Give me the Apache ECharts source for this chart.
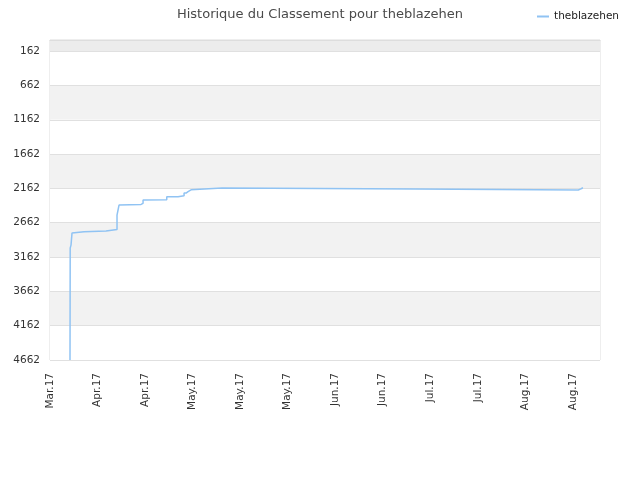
<!DOCTYPE html>
<html>
<head>
<meta charset="utf-8">
<script src="https://cdn.jsdelivr.net/npm/echarts@6/dist/echarts.min.js"></script>
<style>html,body{margin:0;padding:0;background:#fff}#c{width:640px;height:480px}</style>
</head>
<body>
<div id="c"></div>
<script>
// x: days since the first tick (Mar.17 tick = day 0), y: ranking
var days  = [5.89, 5.95, 6.19, 6.48, 6.78, 10.02, 16.50, 19.74, 20.04, 20.33, 20.63, 26.82, 27.41, 28.00, 34.39, 37.72, 39.49, 40.08, 40.67, 41.55, 50.69, 107.57, 155.61, 156.20, 156.79];
var ranks = [4662, 3031, 2988, 2813, 2794, 2783, 2762, 2550, 2477, 2405, 2395, 2380, 2332, 2328, 2284, 2269, 2230, 2208, 2182, 2157, 2172, 2186, 2172, 2160, 2147];
var xTickLabels = ["Mar.17","Apr.17","Apr.17","May.17","May.17","May.17","Jun.17","Jun.17","Jul.17","Jul.17","Aug.17","Aug.17"];
var yTickValues = [162, 662, 1162, 1662, 2162, 2662, 3162, 3662, 4162, 4662];
var seriesName = "theblazehen";

var points = days.map(function (d, i) { return [d, ranks[i]]; });
var chart = echarts.init(document.getElementById('c'), null, {renderer: 'canvas'});
chart.setOption({
  animation: false,
  textStyle: {fontFamily: 'DejaVu Sans'},
  title: {
    text: 'Historique du Classement pour theblazehen',
    left: 'center', top: 3,
    textStyle: {fontSize: 13, fontWeight: 'normal', color: '#4a4a4a', fontFamily: 'DejaVu Sans'}
  },
  legend: {
    right: 16, top: 6,
    itemWidth: 12, itemHeight: 2, itemGap: 8,
    icon: 'rect',
    textStyle: {fontSize: 10.5, color: '#222', fontFamily: 'DejaVu Sans'},
    data: [seriesName]
  },
  grid: {left: 50, right: 40, top: 40, bottom: 120, show: true, borderColor: '#ddd', borderWidth: 1},
  xAxis: {
    type: 'value', min: 0, max: 162, interval: 14,
    axisLine: {show: true, lineStyle: {color: '#ddd'}},
    axisTick: {show: false},
    splitLine: {show: false},
    axisLabel: {
      rotate: 90, fontSize: 10.5, color: '#333', margin: 13,
      formatter: function (v) { var i = Math.round(v / 14); return (Math.abs(v - i * 14) < 0.01 && xTickLabels[i]) ? xTickLabels[i] : ''; }
    }
  },
  yAxis: {
    type: 'value', inverse: true, min: 0, max: 4662,
    axisLine: {show: false},
    axisTick: {show: false, customValues: [0].concat(yTickValues)},
    axisLabel: {fontSize: 10.5, color: '#333', margin: 10, customValues: yTickValues,
      formatter: function (v) { return String(v); }},
    splitLine: {show: true, lineStyle: {color: '#e0e0e0'}},
    splitArea: {show: true, areaStyle: {color: ['#ececec', '#ffffff', '#f2f2f2', '#ffffff', '#f2f2f2', '#ffffff', '#f2f2f2', '#ffffff', '#f2f2f2', '#ffffff']}}
  },
  series: [{
    name: seriesName, type: 'line', step: 'end',
    data: points, showSymbol: false, symbol: 'none',
    lineStyle: {color: '#90c3f3', width: 1.5},
    itemStyle: {color: '#90c3f3'}
  }]
});
</script>
</body>
</html>
